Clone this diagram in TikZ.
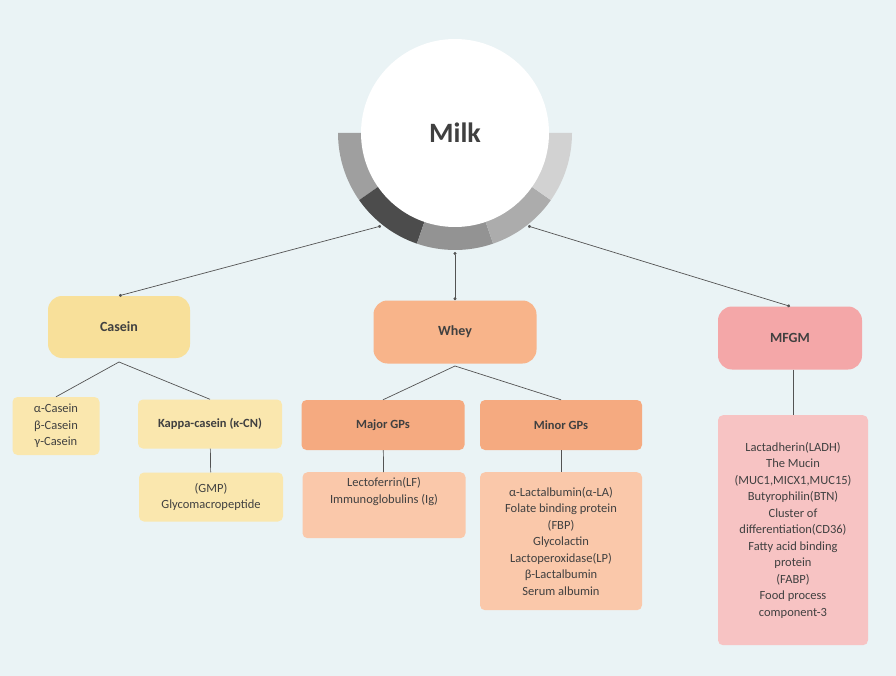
\documentclass[tikz,border=0pt]{standalone}
\usepackage{fontspec}
\setmainfont{Carlito}
\usetikzlibrary{positioning,arrows.meta}
\definecolor{bgc}{HTML}{EAF3F5}
\definecolor{cas}{HTML}{F8E09A}
\definecolor{casl}{HTML}{FAE7AE}
\definecolor{why}{HTML}{F8B48A}
\definecolor{whyd}{HTML}{F5AA80}
\definecolor{whyl}{HTML}{FAC8AA}
\definecolor{mfg}{HTML}{F4A7A8}
\definecolor{mfgl}{HTML}{F7C3C3}
\definecolor{txt}{HTML}{404040}
\begin{document}
\begin{tikzpicture}[x=1pt,y=1pt,
  head/.style={rectangle,rounded corners=14pt,inner sep=0pt,font=\fontsize{14}{16}\selectfont\bfseries,text=txt},
  sub/.style={rectangle,rounded corners=5pt,inner sep=0pt,font=\fontsize{12.5}{14}\selectfont\bfseries,text=txt},
  list/.style={rectangle,rounded corners=5pt,inner sep=0pt,align=center,font=\fontsize{12.5}{16.5}\selectfont,text=txt},
  link/.style={draw=txt!90,line width=0.7pt},
  dots/.style={link,{Circle[length=3pt]}-{Circle[length=3pt]}}]
\fill[bgc] (0,0) rectangle (896,-676);
\useasboundingbox (0,0) rectangle (896,-676);
% ring around the title
\foreach \a/\b/\c in {180/215/gray!75,215/251/black!70,251/289/gray!85,289/325/gray!65,325/360/gray!35}
  \fill[\c] (455,-133) ++(\a:117) arc (\a:\b:117) -- ++(\b:-24) arc (\b:\a:93) -- cycle;
\node[circle,fill=white,minimum size=188pt,inner sep=0pt,font=\fontsize{28}{30}\selectfont\bfseries,text=txt] (milk) at (455,-133) {Milk};
\coordinate (rl) at (381,-226);
\coordinate (rm) at (455,-252);
\coordinate (rr) at (528,-226);
% main groups
\node[head,fill=cas,minimum width=142pt,minimum height=62pt] (casein) at (119,-327) {Casein};
\node[head,fill=why,minimum width=163pt,minimum height=63pt] (whey) at (455,-332) {Whey};
\node[head,fill=mfg,minimum width=144pt,minimum height=63pt] (mfgm) at (790,-338) {MFGM};
\draw[dots] (rl) -- (casein.north);
\draw[dots] (rm) -- (whey.north);
\draw[dots] (rr) -- (mfgm.north);
% casein branch
\node[list,fill=casl,minimum width=87pt,minimum height=58pt] (cn) at (56,-426) {α-Casein\\β-Casein\\γ-Casein};
\node[sub,fill=casl,minimum width=144pt,minimum height=49pt] (kappa) at (210,-424) {Kappa-casein (κ-CN)};
\node[list,fill=casl,minimum width=144pt,minimum height=49pt] (gmp) at (211,-497) {(GMP)\\Glycomacropeptide};
\coordinate (cj) at (119,-362);
\draw[link] (cj) -- (cn.north);
\draw[link] (cj) -- (kappa.north);
\draw[link] (kappa) -- (gmp);
% whey branch
\node[sub,fill=whyd,minimum width=163pt,minimum height=50pt] (major) at (383,-425) {Major GPs};
\node[sub,fill=whyd,minimum width=162pt,minimum height=50pt] (minor) at (561,-425) {Minor GPs};
\node[list,fill=whyl,minimum width=163pt,minimum height=66pt,anchor=north] (lf) at (384,-472) {\\[-8pt]Lectoferrin(LF)\\Immunoglobulins (Ig)\\[12pt]};
\node[list,fill=whyl,minimum width=162pt,minimum height=138pt,anchor=north] (mgp) at (561,-472) {α-Lactalbumin(α-LA)\\Folate binding protein\\(FBP)\\Glycolactin\\Lactoperoxidase(LP)\\β-Lactalbumin\\Serum albumin};
\coordinate (wj) at (455,-366);
\draw[link] (wj) -- (major.north);
\draw[link] (wj) -- (minor.north);
\draw[link] (major) -- (lf);
\draw[link] (minor) -- (mgp);
% mfgm branch
\node[list,fill=mfgl,minimum width=150pt,minimum height=230pt,anchor=north] (mfl) at (793,-415) {Lactadherin(LADH)\\The Mucin\\(MUC1,MICX1,MUC15)\\Butyrophilin(BTN)\\Cluster of\\differentiation(CD36)\\Fatty acid binding\\protein\\(FABP)\\Food process\\component-3};
\draw[link] (mfgm.south -| mfl.north) -- (mfl);
\end{tikzpicture}
\end{document}
